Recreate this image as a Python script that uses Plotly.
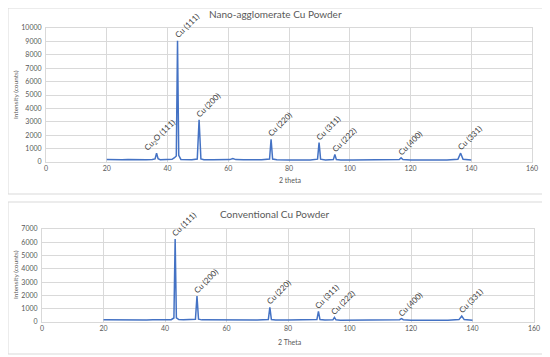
import plotly.graph_objects as go

# XRD pattern, nano-agglomerate Cu powder (2 theta, counts)
nano_theta = [20, 21.5, 23, 25, 27, 29, 31, 33, 35, 35.9, 36.4, 36.9, 37.6, 39.5, 41.5, 42.3, 42.9,
              43.3, 43.7, 44.4, 46, 48, 49.8, 50.4, 51.0, 52, 55, 58, 60.5, 61.5, 62.5, 65, 68, 71,
              73.6, 74.1, 74.6, 76, 80, 84, 87, 89.4, 89.9, 90.4, 92, 94.6, 95.1, 95.6, 97, 101, 105,
              109, 113, 116.3, 116.9, 117.5, 120, 124, 128, 132, 135.6, 136.5, 137.3, 138.5, 140]
nano_counts = [190, 175, 185, 170, 180, 165, 175, 170, 180, 230, 650, 240, 175, 170, 200, 320, 450,
               9050, 500, 190, 175, 170, 220, 3150, 230, 175, 170, 165, 180, 260, 180, 165, 160, 165,
               220, 1700, 220, 160, 155, 160, 150, 210, 1450, 210, 155, 180, 560, 180, 150, 145, 150,
               140, 150, 190, 310, 190, 145, 140, 145, 140, 200, 660, 200, 150, 140]

# XRD pattern, conventional Cu powder
conv_theta = [20, 22, 24, 26, 28, 30, 32, 34, 36, 38, 40, 42, 42.9, 43.3, 43.7, 44.5, 46, 48, 49.9,
              50.4, 50.9, 52, 55, 58, 61, 64, 67, 70, 73.6, 74.1, 74.6, 76, 80, 84, 87, 89.4, 89.9,
              90.4, 92, 94.6, 95.1, 95.6, 97, 101, 105, 109, 113, 116.3, 116.9, 117.5, 120, 124, 128,
              132, 135.6, 136.5, 137.3, 138.5, 140]
conv_counts = [170, 160, 165, 155, 165, 150, 160, 155, 160, 150, 160, 170, 300, 6250, 320, 180, 160,
               155, 200, 1950, 210, 160, 150, 155, 145, 150, 145, 150, 190, 1100, 190, 150, 145, 150,
               140, 180, 800, 180, 145, 160, 350, 160, 140, 135, 140, 135, 130, 170, 250, 170, 135, 130,
               135, 130, 180, 450, 180, 140, 130]

# peak labels
nano_peak_labels = ["Cu<sub>2</sub>O (111)", "Cu (111)", "Cu (200)", "Cu (220)", "Cu (311)",
                    "Cu (222)", "Cu (400)", "Cu (331)"]
nano_peak_theta = [36.4, 43.3, 50.4, 74.1, 89.9, 95.1, 116.9, 136.5]
nano_peak_counts = [650, 9050, 3150, 1700, 1450, 560, 310, 660]

conv_peak_labels = ["Cu (111)", "Cu (200)", "Cu (220)", "Cu (311)", "Cu (222)", "Cu (400)", "Cu (331)"]
conv_peak_theta = [43.3, 50.4, 74.1, 89.9, 95.1, 116.9, 136.5]
conv_peak_counts = [6250, 1950, 1100, 800, 350, 250, 450]

# the page body has an 8px margin, so the figure is drawn 8px in from the window corner
OFF = 8
W, H = 550 - OFF, 357 - OFF
FONT = "Lato"
GRID = "#d9d9d9"
TXT = "#595959"
BLUE = "#4472C4"


def px(x):
    return (x - OFF) / W


def py(y):
    return 1 - (y - OFF) / H


fig = go.Figure()
fig.add_trace(go.Scatter(x=nano_theta, y=nano_counts, mode="lines",
                         line=dict(color=BLUE, width=1.5), xaxis="x", yaxis="y"))
fig.add_trace(go.Scatter(x=conv_theta, y=conv_counts, mode="lines",
                         line=dict(color=BLUE, width=1.5), xaxis="x2", yaxis="y2"))

axis_common = dict(showgrid=True, gridcolor=GRID, gridwidth=1, showline=True, linecolor=GRID,
                   mirror=True, zeroline=False, ticks="", tickformat="d", automargin=False,
                   tickfont=dict(family=FONT, size=7, color=TXT))


def peak_label(lab, t, c, xr, yr):
    # rotated label centred a little up and right of the peak top
    dx, dy = (3, 18) if "O" in lab else (9, 15)
    return dict(x=t, y=c, xref=xr, yref=yr, text=lab, showarrow=False, textangle=-45,
                xanchor="center", yanchor="middle", xshift=dx, yshift=dy,
                font=dict(family=FONT, size=8, color="#404040"))


def paper_text(x, y, text, size, angle=0):
    return dict(x=px(x), y=py(y), xref="paper", yref="paper", text=text, showarrow=False,
                textangle=angle, xanchor="center", yanchor="middle",
                font=dict(family=FONT, size=size, color=TXT))


annotations = []
for lab, t, c in zip(nano_peak_labels, nano_peak_theta, nano_peak_counts):
    annotations.append(peak_label(lab, t, c, "x", "y"))
for lab, t, c in zip(conv_peak_labels, conv_peak_theta, conv_peak_counts):
    annotations.append(peak_label(lab, t, c, "x2", "y2"))

# titles
annotations += [
    paper_text(275, 14, "Nano-agglomerate Cu Powder", 10),
    paper_text(290, 180, "2 theta", 7),
    paper_text(16, 95, "Intensity (counts)", 6.5, -90),
    paper_text(275, 214, "Conventional Cu Powder", 10),
    paper_text(290, 342, "2 Theta", 7),
    paper_text(15, 275, "Intensity (counts)", 6.5, -90),
]

# panel borders (left/top edges fall just outside the drawable area)
shapes = [
    dict(type="rect", xref="paper", yref="paper", x0=0, x1=px(544), y0=py(194), y1=1,
         line=dict(color=GRID, width=1)),
    dict(type="rect", xref="paper", yref="paper", x0=0, x1=px(547), y0=py(354), y1=py(202),
         line=dict(color=GRID, width=1)),
]

fig.update_layout(
    width=W, height=H, margin=dict(l=0, r=0, t=0, b=0, autoexpand=False),
    paper_bgcolor="white", plot_bgcolor="white", showlegend=False,
    xaxis=dict(domain=[px(46), px(532)], range=[0, 160], dtick=20, anchor="y", **axis_common),
    yaxis=dict(domain=[py(162), py(28)], range=[0, 10000], dtick=1000, anchor="x",
               ticklabelstandoff=2, **axis_common),
    xaxis2=dict(domain=[px(42), px(534)], range=[0, 160], dtick=20, anchor="y2", **axis_common),
    yaxis2=dict(domain=[py(322), py(229)], range=[0, 7000], dtick=1000, anchor="x2",
                ticklabelstandoff=2, **axis_common),
    annotations=annotations, shapes=shapes,
)

fig.write_html("out.html")
